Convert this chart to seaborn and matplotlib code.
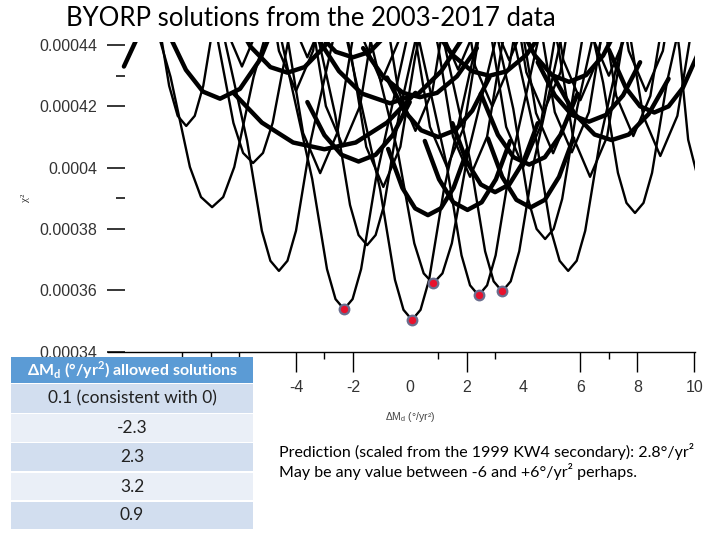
import numpy as np
import pandas as pd
import seaborn as sns
import matplotlib.pyplot as plt
import matplotlib.patches as mpatches

# chi^2 values are written in units of 1e-4 (e.g. 3.538 -> 0.0003538)

# narrow (thin) chi^2 curves
thin_dm = [
    [-4.91, -3.43, -2.91, -2.61, -2.31, -2.01, -1.71, -1.19, 0.29],
    [-2.52, -1.04, -0.52, -0.22, 0.08, 0.38, 0.68, 1.20, 2.68],
    [-2.04, -0.41, 0.16, 0.49, 0.82, 1.15, 1.48, 2.05, 3.68],
    [-0.18, 1.30, 1.82, 2.12, 2.42, 2.72, 3.02, 3.54, 5.02],
    [0.65, 2.13, 2.65, 2.95, 3.25, 3.55, 3.85, 4.37, 5.85],
    [-7.20, -5.72, -5.20, -4.90, -4.60, -4.30, -4.00, -3.48, -2.00],
    [-10.33, -8.41, -7.73, -7.34, -6.95, -6.56, -6.17, -5.49, -3.57],
    [-4.10, -2.62, -2.10, -1.80, -1.50, -1.20, -0.90, -0.38, 1.10],
    [2.16, 3.64, 4.16, 4.46, 4.76, 5.06, 5.36, 5.88, 7.36],
    [2.97, 4.45, 4.97, 5.27, 5.57, 5.87, 6.17, 6.69, 8.17],
    [5.32, 6.80, 7.32, 7.62, 7.92, 8.22, 8.52, 9.04, 10.52],
    [-10.46, -8.98, -8.46, -8.16, -7.86, -7.56, -7.26, -6.74, -5.26],
    [-8.50, -6.80, -6.20, -5.86, -5.51, -5.16, -4.82, -4.22, -2.52],
    [-5.75, -4.27, -3.75, -3.15, -2.55, -2.03, -0.55],
    [-1.29, 0.19, 0.71, 1.31, 1.91, 2.43, 3.91],
    [-0.48, 1.00, 1.52, 2.12, 2.72, 3.24, 4.72],
    [1.39, 2.87, 3.39, 3.99, 4.59, 5.11, 6.59],
    [2.44, 3.92, 4.44, 5.04, 5.64, 6.16, 7.64],
    [3.74, 5.22, 5.74, 6.34, 6.94, 7.46, 8.94],
    [5.26, 6.74, 7.26, 7.86, 8.46, 8.98, 10.46],
    [6.21, 7.69, 8.21, 8.81, 9.41, 9.93, 11.41],
    [8.59, 9.48, 9.79, 10.15, 10.51, 10.82, 11.71],
    [-4.95, -3.47, -2.95, -2.35, -1.75, -1.23, 0.25],
    [-3.53, -2.05, -1.53, -0.93, -0.33, 0.19, 1.67],
    [0.30, 1.78, 2.30, 2.90, 3.50, 4.02, 5.50],
    [-6.60, -5.12, -4.60, -4.00, -3.40, -2.88, -1.40],
    [3.40, 4.88, 5.40, 6.00, 6.60, 7.12, 8.60],
    [-3.60, -2.12, -1.60, -1.00, -0.40, 0.12, 1.60],
    [-0.90, 0.58, 1.10, 1.70, 2.30, 2.82, 4.30],
    [2.10, 3.58, 4.10, 4.70, 5.30, 5.82, 7.30],
    [4.40, 5.88, 6.40, 7.00, 7.60, 8.12, 9.60],
    [-8.50, -7.02, -6.50, -5.90, -5.30, -4.78, -3.30],
    [-2.40, -0.92, -0.40, 0.20, 0.80, 1.32, 2.80],
    [0.90, 2.38, 2.90, 3.50, 4.10, 4.62, 6.10],
    [-6.20, -4.72, -4.20, -3.60, -3.00, -2.48, -1.00],
    [5.70, 7.18, 7.70, 8.30, 8.90, 9.42, 10.90],
    [3.10, 4.58, 5.10, 5.70, 6.30, 6.82, 8.30],
]
thin_chi2 = [
    [4.583, 3.963, 3.669, 3.571, 3.538, 3.571, 3.669, 3.963, 4.583],
    [4.548, 3.928, 3.634, 3.536, 3.503, 3.536, 3.634, 3.928, 4.548],
    [4.667, 4.047, 3.753, 3.655, 3.622, 3.655, 3.753, 4.047, 4.667],
    [4.628, 4.008, 3.714, 3.616, 3.583, 3.616, 3.714, 4.008, 4.628],
    [4.641, 4.021, 3.727, 3.629, 3.596, 3.629, 3.727, 4.021, 4.641],
    [4.708, 4.088, 3.794, 3.696, 3.663, 3.696, 3.794, 4.088, 4.708],
    [4.916, 4.296, 4.002, 3.904, 3.871, 3.904, 4.002, 4.296, 4.916],
    [4.792, 4.172, 3.878, 3.780, 3.747, 3.780, 3.878, 4.172, 4.792],
    [4.812, 4.192, 3.898, 3.800, 3.767, 3.800, 3.898, 4.192, 4.812],
    [4.708, 4.088, 3.794, 3.696, 3.663, 3.696, 3.794, 4.088, 4.708],
    [4.897, 4.277, 3.983, 3.885, 3.852, 3.885, 3.983, 4.277, 4.897],
    [5.181, 4.561, 4.267, 4.169, 4.136, 4.169, 4.267, 4.561, 5.181],
    [5.060, 4.440, 4.146, 4.048, 4.015, 4.048, 4.146, 4.440, 5.060],
    [5.027, 4.407, 4.113, 3.982, 4.113, 4.407, 5.027],
    [5.047, 4.427, 4.133, 4.002, 4.133, 4.427, 5.047],
    [5.015, 4.395, 4.101, 3.970, 4.101, 4.395, 5.015],
    [5.047, 4.427, 4.133, 4.002, 4.133, 4.427, 5.047],
    [5.092, 4.472, 4.178, 4.047, 4.178, 4.472, 5.092],
    [5.015, 4.395, 4.101, 3.970, 4.101, 4.395, 5.015],
    [5.148, 4.528, 4.234, 4.103, 4.234, 4.528, 5.148],
    [5.083, 4.463, 4.169, 4.038, 4.169, 4.463, 5.083],
    [5.005, 4.385, 4.091, 3.960, 4.091, 4.385, 5.005],
    [5.115, 4.495, 4.201, 4.070, 4.201, 4.495, 5.115],
    [4.982, 4.362, 4.068, 3.937, 4.068, 4.362, 4.982],
    [5.245, 4.625, 4.331, 4.200, 4.331, 4.625, 5.245],
    [5.295, 4.675, 4.381, 4.250, 4.381, 4.675, 5.295],
    [5.265, 4.645, 4.351, 4.220, 4.351, 4.645, 5.265],
    [5.325, 4.705, 4.411, 4.280, 4.411, 4.705, 5.325],
    [5.365, 4.745, 4.451, 4.320, 4.451, 4.745, 5.365],
    [5.225, 4.605, 4.311, 4.180, 4.311, 4.605, 5.225],
    [5.345, 4.725, 4.431, 4.300, 4.431, 4.725, 5.345],
    [5.375, 4.755, 4.461, 4.330, 4.461, 4.755, 5.375],
    [5.165, 4.545, 4.251, 4.120, 4.251, 4.545, 5.165],
    [5.395, 4.775, 4.481, 4.350, 4.481, 4.775, 5.395],
    [5.405, 4.785, 4.491, 4.360, 4.491, 4.785, 5.405],
    [5.295, 4.675, 4.381, 4.250, 4.381, 4.675, 5.295],
    [5.095, 4.475, 4.181, 4.050, 4.181, 4.475, 5.095],
]

# broad (thick) curves
thick_dm = [
    [-3.29, -2.49, -1.69, -0.69, 0.31, 1.11, 1.91],
    [-8.47, -7.87, -7.27, -6.67, -5.97, -5.27, -4.57],
    [-6.2, -5.2, -4.1, -3.0, -1.9, -0.8, 0.2],
    [-1.64, -0.94, -0.24, 0.36, 0.96, 1.66, 2.36],
    [2.50, 3.10, 3.65, 4.20, 4.75, 5.30, 5.90],
    [0.53, 1.03, 1.53, 2.03, 2.53, 3.03, 3.53],
    [-0.76, -0.26, 0.19, 0.64, 1.09, 1.54, 2.04],
    [2.75, 3.25, 3.75, 4.25, 4.75, 5.25, 5.75],
    [-10.05, -9.55],
    [5.1, 5.8, 6.5, 7.1, 7.7, 8.4, 9.1],
    [0.8, 1.5, 2.2, 2.8, 3.4, 4.1, 4.8],
    [-6.3, -5.6, -4.9, -4.3, -3.7, -3.0, -2.3],
    [3.8, 4.4, 5.0, 5.6, 6.2, 6.8, 7.4],
    [-4.0, -3.3, -2.6, -2.0, -1.4, -0.7, 0.0],
    [-0.8, -0.2, 0.4, 1.0, 1.6, 2.2, 2.8],
    [4.5, 5.1, 5.7, 6.3, 6.9, 7.5, 8.1],
    [7.0, 7.6, 8.1, 8.6, 9.1, 9.6, 10.2],
    [-3.6, -3.0, -2.4, -1.8, -1.2, -0.6, 0.0],
    [1.5, 2.0, 2.5, 3.0, 3.5, 4.0, 4.5],
]
thick_chi2 = [
    [4.430, 4.315, 4.242, 4.210, 4.242, 4.315, 4.430],
    [4.435, 4.319, 4.248, 4.225, 4.257, 4.352, 4.512],
    [4.244, 4.147, 4.082, 4.060, 4.082, 4.147, 4.244],
    [4.390, 4.298, 4.244, 4.230, 4.244, 4.298, 4.390],
    [4.241, 4.107, 4.034, 4.010, 4.034, 4.107, 4.241],
    [4.087, 3.962, 3.887, 3.862, 3.887, 3.962, 4.087],
    [4.061, 3.934, 3.867, 3.845, 3.867, 3.934, 4.061],
    [4.095, 3.970, 3.895, 3.870, 3.895, 3.970, 4.095],
    [4.330, 4.430],
    [4.290, 4.175, 4.108, 4.090, 4.108, 4.175, 4.290],
    [4.460, 4.368, 4.314, 4.300, 4.314, 4.368, 4.460],
    [4.510, 4.395, 4.328, 4.310, 4.328, 4.395, 4.510],
    [4.474, 4.366, 4.302, 4.280, 4.302, 4.366, 4.474],
    [4.560, 4.445, 4.378, 4.360, 4.378, 4.445, 4.560],
    [4.294, 4.186, 4.122, 4.100, 4.122, 4.186, 4.294],
    [4.344, 4.236, 4.172, 4.150, 4.172, 4.236, 4.344],
    [4.385, 4.260, 4.200, 4.180, 4.200, 4.260, 4.385],
    [4.214, 4.106, 4.042, 4.020, 4.042, 4.106, 4.214],
    [4.145, 4.020, 3.945, 3.920, 3.945, 4.020, 4.145],
]

# allowed solutions (red dots)
sol_dm = [-2.31, 0.08, 0.82, 2.42, 3.25]
sol_chi2 = [3.538, 3.503, 3.622, 3.583, 3.596]

y_ticks = [0.00034, 0.00036, 0.00038, 0.0004, 0.00042, 0.00044]
y_labels = ["0.00034", "0.00036", "0.00038", "0.0004", "0.00042", "0.00044"]
x_ticks = [-4, -2, 0, 2, 4, 6, 8, 10]

table_header = r"ΔM$_\mathregular{d}$ (°/yr$^\mathregular{2}$) allowed solutions"
table_rows = ["0.1 (consistent with 0)", "-2.3", "2.3", "3.2", "0.9"]

note_lines = ["Prediction (scaled from the 1999 KW4 secondary): 2.8°/yr²",
              "May be any value between -6 and +6°/yr² perhaps."]


def to_long(dm_lists, chi_lists):
    rows = []
    for i, (xs, ys) in enumerate(zip(dm_lists, chi_lists)):
        for x, y in zip(xs, ys):
            rows.append({"curve": i, "dm": x, "chi2": y * 1e-4})
    return pd.DataFrame(rows)


df_thin = to_long(thin_dm, thin_chi2)
df_thick = to_long(thick_dm, thick_chi2)
df_sol = pd.DataFrame({"dm": sol_dm, "chi2": np.array(sol_chi2) * 1e-4})

sns.set_style("white")
plt.rcParams["font.family"] = ["Lato", "DejaVu Sans"]
plt.rcParams["mathtext.fontset"] = "custom"
plt.rcParams["mathtext.rm"] = "Lato"

fig = plt.figure(figsize=(7.2, 5.4), dpi=100)
ax = fig.add_axes([108 / 720, 1 - 351.5 / 540, 587 / 720, 309.5 / 540])

sns.lineplot(data=df_thin, x="dm", y="chi2", units="curve", estimator=None,
             sort=False, color="black", linewidth=1.7, ax=ax, legend=False)
sns.lineplot(data=df_thick, x="dm", y="chi2", units="curve", estimator=None,
             sort=False, color="black", linewidth=3.2, ax=ax, legend=False)
sns.scatterplot(data=df_sol, x="dm", y="chi2", s=48, color="#e8112d",
                edgecolor="#6a6e8e", linewidth=1.6, zorder=5, ax=ax)

ax.set_xlim(-10.61, 10.03)
ax.set_ylim(0.00034, 0.000441)

# axis styling (R-like)
for side in ["top", "right"]:
    ax.spines[side].set_visible(False)
ax.spines["left"].set_position(("outward", -17 * 0.72))
ax.spines["left"].set_color("none")
ax.spines["bottom"].set_color("black")
ax.spines["bottom"].set_linewidth(1.0)

tick_font = {"family": "Liberation Sans", "size": 11.5}
ax.set_yticks(y_ticks)
ax.set_yticklabels(y_labels, fontdict=tick_font, color="#333333")
ax.set_yticks([0.00039, 0.00043], minor=True)
ax.tick_params(axis="y", which="major", direction="out", length=13,
               width=1.1, pad=7, left=True, color="black")
ax.tick_params(axis="y", which="minor", direction="out", length=6.5,
               width=1.1, left=True, color="black")

ax.set_xticks(x_ticks)
ax.set_xticklabels([str(t) for t in x_ticks], fontdict=tick_font, color="#333333")
ax.set_xticks([-8, -7, -6, -3, 1, 3, 7], minor=True)
ax.tick_params(axis="x", which="major", direction="out", length=14.5,
               width=1.0, pad=6, bottom=True, color="black")
ax.tick_params(axis="x", which="minor", direction="out", length=5,
               width=1.0, bottom=True, color="black")
for t, loc in zip(ax.xaxis.get_major_ticks(), x_ticks):
    if loc in (0, 4):
        t.tick1line.set_visible(False)

ax.set_xlabel(r"ΔM$_\mathregular{d}$ (°/yr²)", fontsize=7.5, color="#444444",
              family=["Liberation Sans", "DejaVu Sans"])
ax.xaxis.set_label_coords((410 - 108) / 587, -(410 - 351.5) / 309.5)
ax.set_ylabel("χ²", fontsize=8, color="#333333",
              family=["Liberation Serif", "DejaVu Serif"])
ax.yaxis.set_label_coords(-(108 - 30) / 587, (351.5 - 198) / 309.5)

# title
fig.text(66 / 720, 1 - 19 / 540, "BYORP solutions from the 2003-2017 data",
         fontsize=18.5, ha="left", va="center", color="black")

# table of allowed solutions
row_bounds = [(357, 383), (384, 413), (414, 442), (443, 471), (473, 500), (502, 529)]
row_colors = ["#5b9bd5", "#d2deef", "#eaeff7", "#d2deef", "#eaeff7", "#d2deef"]
row_texts = [table_header] + table_rows
for i, ((y0, y1), col, txt) in enumerate(zip(row_bounds, row_colors, row_texts)):
    fig.add_artist(mpatches.Rectangle((11 / 720, 1 - y1 / 540), 242 / 720,
                                      (y1 - y0) / 540, transform=fig.transFigure,
                                      facecolor=col, edgecolor="none", zorder=3))
    fig.text(132 / 720, 1 - (y0 + y1) / 2 / 540, txt,
             fontsize=11.5 if i == 0 else 12.5, ha="center", va="center",
             zorder=4, color="white" if i == 0 else "#222222",
             fontweight="bold" if i == 0 else "normal")

# prediction note
for yy, line in zip([452, 472], note_lines):
    fig.text(279 / 720, 1 - yy / 540, line, fontsize=11.5, ha="left",
             va="center", color="black")

fig.savefig("out.png", dpi=100)
